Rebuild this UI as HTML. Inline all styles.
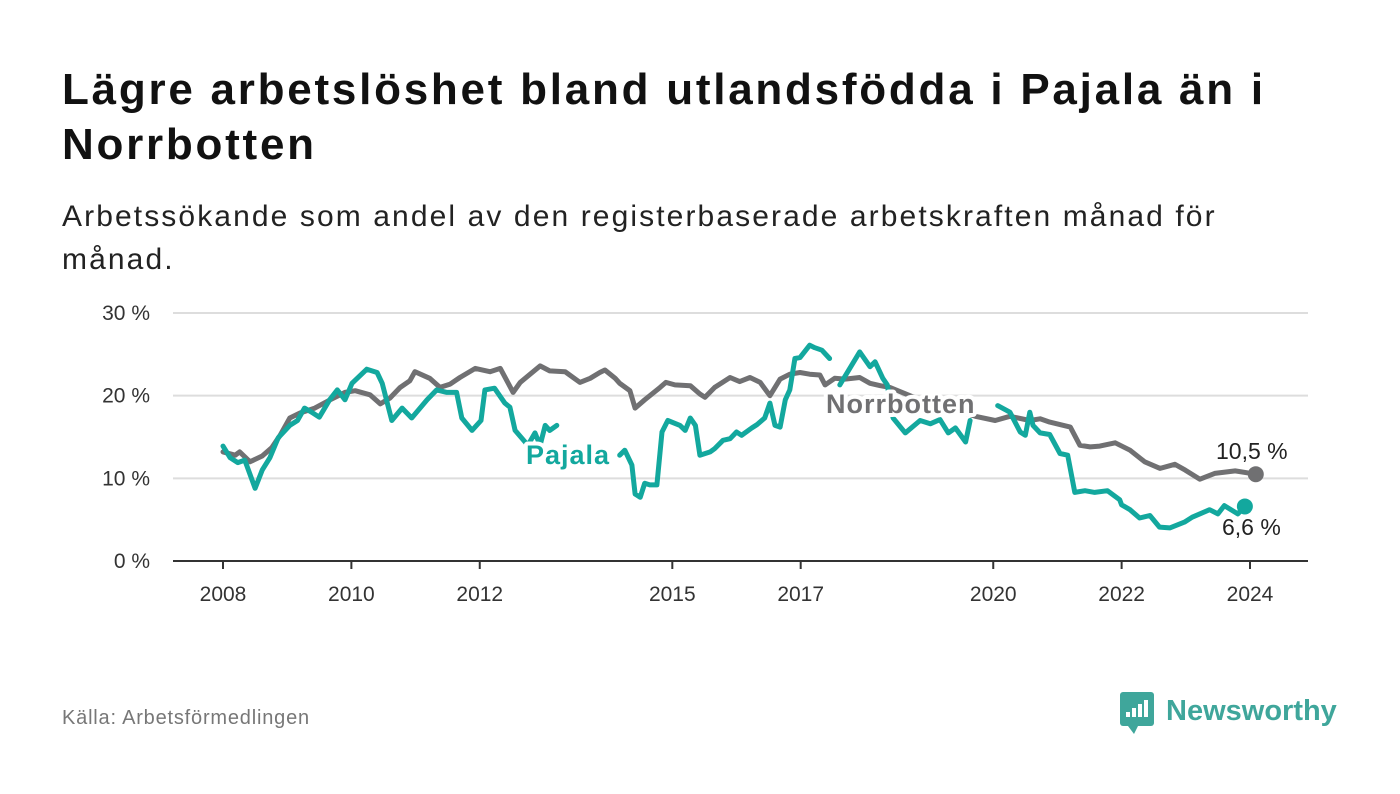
<!DOCTYPE html>
<html><head><meta charset="utf-8"><style>
body{margin:0;width:1400px;height:794px;background:#fff;font-family:"Liberation Sans","DejaVu Sans",sans-serif;overflow:hidden;position:relative}
h1{position:absolute;left:62px;top:62px;margin:0;font-size:44px;line-height:55px;font-weight:bold;color:#111;letter-spacing:2.75px;white-space:nowrap}
.sub{position:absolute;left:62px;top:195px;font-size:30px;line-height:43px;color:#222;letter-spacing:2.1px;white-space:nowrap}
.src{position:absolute;left:62px;top:707px;font-size:20px;color:#777;letter-spacing:0.8px}
svg{position:absolute;left:0;top:0}
</style></head><body>
<h1>Lägre arbetslöshet bland utlandsfödda i Pajala än i<br>Norrbotten</h1>
<div class="sub">Arbetssökande som andel av den registerbaserade arbetskraften månad för<br>månad.</div>
<div class="src">Källa: Arbetsförmedlingen</div>
<svg id="chart" width="1400" height="794"></svg>
<script>
const yTicks=[0,10,20,30];
const xTicks=[2008,2010,2012,2015,2017,2020,2022,2024];
const norrDates=[2008.0,2008.19,2008.26,2008.42,2008.61,2008.76,2008.89,2009.04,2009.2,2009.43,2009.67,2009.9,2010.06,2010.29,2010.45,2010.6,2010.76,2010.91,2010.99,2011.22,2011.38,2011.54,2011.69,2011.93,2012.16,2012.32,2012.52,2012.63,2012.94,2013.09,2013.33,2013.56,2013.72,2013.87,2013.95,2014.11,2014.18,2014.34,2014.42,2014.57,2014.81,2014.9,2015.04,2015.28,2015.43,2015.51,2015.66,2015.9,2016.05,2016.21,2016.37,2016.52,2016.68,2016.83,2016.99,2017.14,2017.3,2017.38,2017.53,2017.69,2017.92,2018.08,2018.24,2018.39,2018.86,2019.33,2019.72,2020.03,2020.26,2020.57,2020.73,2020.88,2021.2,2021.35,2021.51,2021.66,2021.9,2022.13,2022.36,2022.6,2022.83,2022.99,2023.22,2023.45,2023.77,2024.09];
const norrValues=[13.2,12.8,13.2,12.0,12.7,13.7,15.2,17.3,17.9,18.5,19.5,20.4,20.6,20.1,19.0,19.7,21.0,21.8,22.9,22.1,21.0,21.4,22.2,23.3,22.9,23.3,20.4,21.6,23.6,23.0,22.9,21.6,22.1,22.8,23.1,22.1,21.5,20.6,18.5,19.5,21.0,21.6,21.3,21.2,20.2,19.8,21.0,22.2,21.7,22.2,21.6,20.0,22.0,22.6,22.8,22.6,22.5,21.3,22.1,22.0,22.2,21.5,21.2,21.0,19.5,18.5,17.5,17.0,17.5,17.0,17.2,16.8,16.2,14.0,13.8,13.9,14.3,13.4,12.0,11.2,11.7,11.0,9.9,10.6,10.9,10.5];
const pajDates=[2008.0,2008.11,2008.23,2008.34,2008.5,2008.61,2008.73,2008.86,2009.04,2009.16,2009.27,2009.38,2009.5,2009.66,2009.78,2009.9,2010.01,2010.24,2010.4,2010.48,2010.63,2010.79,2010.94,2011.18,2011.33,2011.49,2011.64,2011.72,2011.88,2012.02,2012.08,2012.23,2012.39,2012.47,2012.55,2012.75,2012.86,2012.94,2013.02,2013.09,2013.2,null,2014.18,2014.26,2014.37,2014.42,2014.5,2014.57,2014.65,2014.76,2014.84,2014.93,2015.12,2015.2,2015.28,2015.36,2015.43,2015.59,2015.66,2015.79,2015.9,2016.0,2016.08,2016.24,2016.32,2016.44,2016.52,2016.6,2016.68,2016.76,2016.83,2016.91,2016.99,2017.14,2017.22,2017.33,2017.45,null,2017.61,2017.92,2018.08,2018.16,2018.28,2018.35,2018.44,2018.63,2018.86,2019.02,2019.17,2019.3,2019.41,2019.57,2019.64,2019.65,null,2020.07,2020.26,2020.42,2020.5,2020.57,2020.62,2020.73,2020.88,2021.04,2021.16,2021.27,2021.43,2021.58,2021.78,2021.97,2022.0,2022.13,2022.28,2022.44,2022.59,2022.75,2022.98,2023.1,2023.37,2023.5,2023.6,2023.81,2023.92,2024.09];
const pajValues=[13.9,12.5,11.9,12.2,8.8,11.0,12.5,14.9,16.4,17.0,18.5,18.0,17.4,19.5,20.7,19.5,21.5,23.2,22.8,21.5,17.0,18.5,17.3,19.5,20.7,20.4,20.4,17.3,15.8,17.0,20.7,20.9,19.1,18.6,15.8,14.0,15.5,14.0,16.4,15.8,16.4,null,12.8,13.4,11.6,8.1,7.7,9.4,9.2,9.2,15.6,17.0,16.4,15.8,17.3,16.4,12.8,13.2,13.6,14.6,14.8,15.6,15.2,16.1,16.5,17.3,19.1,16.4,16.2,19.5,20.7,24.5,24.6,26.1,25.8,25.5,24.5,null,21.3,25.3,23.5,24.1,22.1,21.3,17.3,15.5,17.0,16.6,17.1,15.5,16.1,14.4,17.0,null,18.5,18.8,18.0,15.6,15.2,18.0,16.4,15.5,15.3,13.0,12.8,8.3,8.5,8.3,8.5,7.4,6.8,6.2,5.2,5.5,4.1,4.0,4.7,5.3,6.2,5.7,6.7,5.7,6.6];
const x0=223,x1=1250,Y0=561,Y30=313,svg=document.getElementById('chart'),NS='http://www.w3.org/2000/svg';
const X=d=>x0+(d-2008)*(x1-x0)/16, Y=v=>Y0-(v/30)*(Y0-Y30);
function mk(t,a,p){const e=document.createElementNS(NS,t);for(const k in a)e.setAttribute(k,a[k]);(p||svg).appendChild(e);return e;}
yTicks.forEach(v=>{
 const g=mk('line',{x1:173,x2:1308,y1:Y(v),y2:Y(v),stroke:v===0?'#333':'#ddd','stroke-width':2});
 
 
 const t=mk('text',{x:150,y:Y(v)+7,'text-anchor':'end','font-size':21,fill:'#333'});t.textContent=v+' %';
 
 
});
xTicks.forEach(d=>{
 mk('line',{x1:X(d),x2:X(d),y1:561,y2:569,stroke:'#333','stroke-width':2});
 const t=mk('text',{x:X(d),y:601,'text-anchor':'middle','font-size':21,fill:'#333'});t.textContent=d;
 
 
});
function path(ds,vs,col,name){let d='',pen=false;
 for(let i=0;i<ds.length;i++){if(vs[i]===null||ds[i]===null){pen=false;continue;}d+=(pen?'L':'M')+X(ds[i]).toFixed(1)+' '+Y(vs[i]).toFixed(1);pen=true;}
 const p=mk('path',{d:d,fill:'none',stroke:col,'stroke-width':5,'stroke-linejoin':'round','stroke-linecap':'round'});
 
 }
path(norrDates,norrValues,'#707072','series-norrbotten');
path(pajDates,pajValues,'#13a89e','series-pajala');
function lbl(x,y,txt,col,name,size,bold,halo,ls){const t=mk('text',{x:x,y:y,'font-size':size,'font-weight':bold?'bold':'normal',fill:col,stroke:halo?'#fff':'none','stroke-width':halo?8:0,'paint-order':'stroke','stroke-linejoin':'round','letter-spacing':ls||0});t.textContent=txt;
 
 }
lbl(526,464,'Pajala','#13a89e','pajala-label',27,true,true,1);
lbl(826,413,'Norrbotten','#707072','norrbotten-label',27,true,true,1);
const nl=norrValues.length-1,pl=pajValues.length-1;
const c1=mk('circle',{cx:X(norrDates[nl]),cy:Y(norrValues[nl]),r:8,fill:'#707072'});


const c2=mk('circle',{cx:X(pajDates[pl]),cy:Y(pajValues[pl]),r:8,fill:'#13a89e'});


lbl(1216,459,norrValues[nl].toFixed(1).replace('.',',')+' %','#222','norrbotten-end-value',23,false,true);
lbl(1222,535,pajValues[pl].toFixed(1).replace('.',',')+' %','#222','pajala-end-value',23,false,true);
const lg=mk('g',{});


mk('rect',{x:1120,y:692,width:34,height:34,rx:3,fill:'#3fa69b'},lg);
mk('path',{d:'M1128 726 L1134 734 L1138 726 Z',fill:'#3fa69b'},lg);
[[1126,712,5],[1132,708,9],[1138,704,13],[1144,700,17]].forEach(b=>mk('rect',{x:b[0],y:b[1],width:4,height:b[2],fill:'#fff'},lg));
const lt=mk('text',{x:1166,y:720,'font-size':29,'font-weight':'bold',fill:'#3fa69b'},lg);lt.textContent='Newsworthy';
</script>
</body></html>
